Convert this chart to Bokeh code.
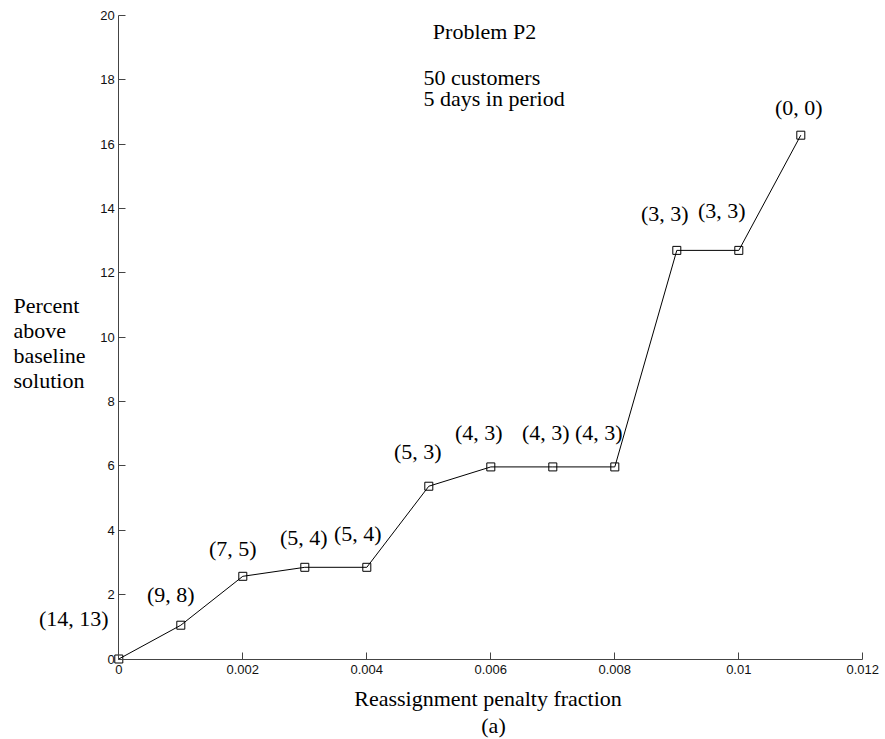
from bokeh.plotting import figure
from bokeh.models import Range1d, FixedTicker, Label
from bokeh.embed import file_html
from bokeh.resources import INLINE

# ---- data ----
penalty = [0.0, 0.001, 0.002, 0.003, 0.004, 0.005, 0.006, 0.007, 0.008, 0.009, 0.010, 0.011]
percent = [0.0, 1.05, 2.57, 2.85, 2.85, 5.37, 5.97, 5.97, 5.97, 12.7, 12.7, 16.28]
pair_labels = ["(14, 13)", "(9, 8)", "(7, 5)", "(5, 4)", "(5, 4)", "(5, 3)",
               "(4, 3)", "(4, 3)", "(4, 3)", "(3, 3)", "(3, 3)", "(0, 0)"]
x_ticks = [0, 0.002, 0.004, 0.006, 0.008, 0.010, 0.012]
x_tick_labels = ["0", "0.002", "0.004", "0.006", "0.008", "0.01", "0.012"]
y_ticks = [0, 2, 4, 6, 8, 10, 12, 14, 16, 18, 20]
y_tick_labels = ["0", "2", "4", "6", "8", "10", "12", "14", "16", "18", "20"]
title_lines = ["Problem P2", "50 customers", "5 days in period"]
x_title = "Reassignment penalty fraction"
sub_caption = "(a)"
y_title_lines = ["Percent", "above", "baseline", "solution"]

# label pixel offsets (dx, dy; dy positive = up)
label_dx = [-45, -10, -10, -1, -9, -11, -12, -7, -16, -12, -17, -2]
label_dy = [41, 31, 28, 30, 34, 35, 34, 34, 34, 37, 40, 28]

SERIF = "Liberation Serif"
SANS = "Liberation Sans"

W, H = 885, 739
PX_X = 62000.0      # pixels per x unit
PX_Y = 32.175       # pixels per y unit
X0_PX, Y0_PX = 118.3, 658.5

p = figure(width=W, height=H, output_backend="svg", toolbar_location=None,
           x_range=Range1d(-X0_PX / PX_X, (W - X0_PX) / PX_X),
           y_range=Range1d(-(H - Y0_PX) / PX_Y, Y0_PX / PX_Y),
           min_border=0, min_border_left=0, min_border_right=0,
           min_border_top=0, min_border_bottom=0)
p.outline_line_color = None
p.xgrid.visible = False
p.ygrid.visible = False
p.background_fill_color = "white"
p.border_fill_color = "white"

for ax in (p.xaxis[0], p.yaxis[0]):
    ax.fixed_location = 0
    ax.axis_line_color = "#444444"
    ax.axis_line_width = 1
    ax.major_tick_line_color = "#444444"
    ax.major_tick_in = 7
    ax.major_tick_out = 0
    ax.minor_tick_line_color = None
    ax.major_label_text_font = SANS
    ax.major_label_text_font_size = "13px"
    ax.major_label_text_color = "#111111"

p.xaxis.bounds = (x_ticks[0], x_ticks[-1])
p.xaxis.ticker = FixedTicker(ticks=x_ticks)
p.xaxis.major_label_overrides = {t: s for t, s in zip(x_ticks, x_tick_labels)}
p.xaxis.major_label_standoff = 6
p.yaxis.bounds = (y_ticks[0], y_ticks[-1])
p.yaxis.ticker = FixedTicker(ticks=y_ticks)
p.yaxis.major_label_overrides = {t: s for t, s in zip(y_ticks, y_tick_labels)}
p.yaxis.major_label_standoff = 4

p.line(penalty, percent, line_color="black", line_width=1)
p.scatter(penalty, percent, marker="square", size=8, fill_color=None,
          line_color="black", line_width=1)

def lab(x, y, text, align="center", dx=0, dy=0):
    p.add_layout(Label(x=x, y=y, text=text, x_offset=dx, y_offset=dy,
                       text_align=align, text_baseline="middle",
                       text_font=SERIF, text_font_size="22px", text_color="black"))

for x, y, t, dx, dy in zip(penalty, percent, pair_labels, label_dx, label_dy):
    lab(x, y, t, dx=dx, dy=dy)

def sx(px):
    return (px - X0_PX) / PX_X

def sy(py):
    return (Y0_PX - py) / PX_Y

# title block
lab(sx(484), sy(30.7), title_lines[0])
lab(sx(423), sy(76.7), title_lines[1], align="left")
lab(sx(423), sy(98.0), title_lines[2], align="left")

# axis titles
lab(sx(487.5), sy(698), x_title)
lab(sx(493), sy(725), sub_caption)
for py, line in zip([305, 330, 355, 380], y_title_lines):
    lab(sx(13), sy(py), line, align="left")

open("out.html", "w").write(file_html(p, INLINE))
